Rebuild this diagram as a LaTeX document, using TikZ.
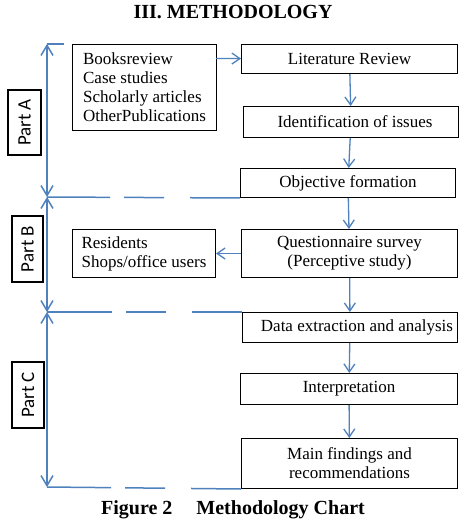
\documentclass[tikz,border=0pt]{standalone}
\usepackage{fontspec}
\setmainfont{Liberation Serif}
\newfontfamily\partfont{Carlito}
\usepackage{tikz}
\usetikzlibrary{arrows.meta}
\definecolor{flowblue}{RGB}{79,129,189}
\tikzset{
box/.style={draw, line width=1pt, inner sep=0pt, anchor=north west, font=\fontsize{17}{19}\selectfont}, % the steps of the chart
srcbox/.style={box, align=left}, % boxes with the lists on the left
part/.style={draw, line width=1.4pt, rotate=90, inner sep=0pt, font=\partfont\fontsize{19}{22}\selectfont}, % the part labels
flow/.style={color=flowblue, line width=1.3pt, -{Straight Barb[length=8pt,width=11pt]}}, % arrows between steps
side/.style={color=flowblue, line width=1.5pt}, % the line on the left
gapped/.style={side, dash pattern={on 50pt off 26pt on 40pt off 14pt on 120pt off 0pt}}, % part borders
}
\begin{document}
\begin{tikzpicture}[x=1pt, y=-1pt]
    \useasboundingbox (0,0) rectangle (461,521);
    \node at (233,12) {\fontsize{20}{24}\selectfont\bfseries III. METHODOLOGY};
    \node[srcbox, minimum width=144pt, minimum height=86pt] at (72,44) (s1) {Booksreview\\Case studies\\Scholarly articles\\OtherPublications};
    \node[box, minimum width=216pt, minimum height=29pt] at (241,44) (m1) {Literature Review};
    \node[box, minimum width=215pt, minimum height=31pt] at (243,106) (m2) {\hspace{8pt}Identification of issues};
    \node[box, minimum width=215pt, minimum height=29pt] at (240,168) (m3) {Objective formation};
    \node[srcbox, minimum width=143pt, minimum height=48pt] at (72,229) (s2) {Residents\\Shops/office users};
    \node[box, minimum width=216pt, minimum height=48pt, align=center] at (241,229) (m4) {Questionnaire survey\\(Perceptive study)};
    \node[box, minimum width=215pt, minimum height=30pt] at (242,312) (m5) {\hspace{14pt}Data extraction and analysis};
    \node[box, minimum width=217pt, minimum height=31pt] at (240,373) (m6) {Interpretation};
    \node[box, minimum width=216pt, minimum height=50pt, align=center] at (241,438) (m7) {Main findings and\\recommendations};
    \node[part, minimum width=65pt, minimum height=33pt] at (24.5,122.5) (t1) {Part A};
    \node[part, minimum width=66pt, minimum height=31pt] at (27.5,249) (t2) {Part B};
    \node[part, minimum width=66pt, minimum height=32pt] at (28,395) (t3) {Part C};
    \coordinate (c0) at (47,44);
    \coordinate (c1) at (47,197);
    \coordinate (c2) at (47,312);
    \coordinate (c3) at (47,487);
    \coordinate (c4) at (64,44);
    \coordinate (c5) at (216,58.5);
    \node at (233,510) {\fontsize{20}{24}\selectfont\bfseries Figure 2\hspace{24pt}Methodology Chart};
    \path[flow]
    (c5) edge (m1)
    (m1) edge (m2)
    (m2) edge (m3)
    (m3) edge (m4)
    (m4) edge (s2)
    (m4) edge (m5)
    (m5) edge (m6)
    (m6) edge (m7)
    ;
    \path[side, {Straight Barb[length=10pt,width=12pt]}-{Straight Barb[length=10pt,width=12pt]}]
    (c0) edge (c1)
    (c1) edge (c2)
    (c2) edge (c3)
    ;
    \draw[side] (c0) -- (c4);
    \path[gapped]
    (m3.south west) edge (c1)
    (m5.north west) edge (c2)
    (m7.south west) edge (c3)
    ;
\end{tikzpicture}
\end{document}
